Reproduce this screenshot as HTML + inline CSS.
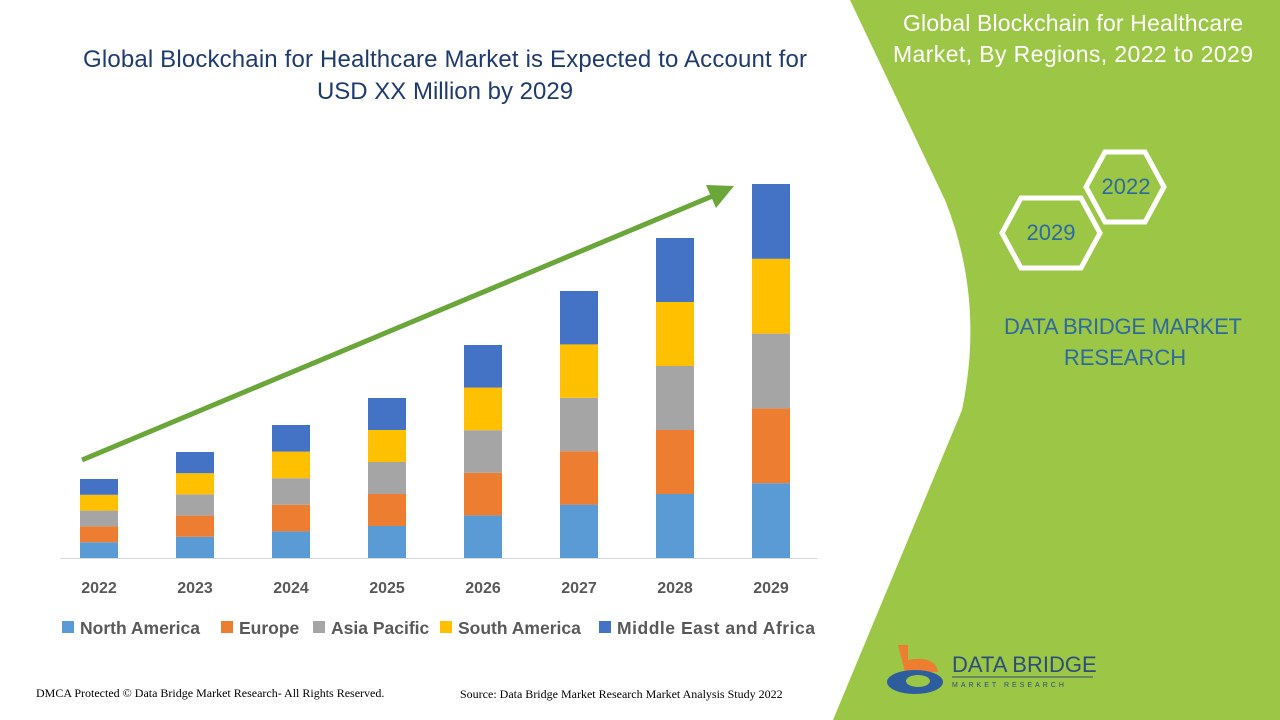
<!DOCTYPE html>
<html><head><meta charset="utf-8"><style>
body{margin:0;width:1280px;height:720px;overflow:hidden;background:#fff;font-family:"Liberation Sans",sans-serif;}
</style></head><body>
<svg width="1280" height="720" viewBox="0 0 1280 720" xmlns="http://www.w3.org/2000/svg" style="position:absolute;left:0;top:0">
<path d="M850,0 L1280,0 L1280,720 L833,720 L962,410 Q985,300 945,200 Z" fill="#9cc645"/>
<text x="445" y="67" text-anchor="middle" font-family="Liberation Sans" font-size="24" fill="#1f3b6e" textLength="724">Global Blockchain for Healthcare Market is Expected to Account for</text>
<text x="445" y="99" text-anchor="middle" font-family="Liberation Sans" font-size="24" fill="#1f3b6e">USD XX Million by 2029</text>
<text x="1073" y="31" text-anchor="middle" font-size="23" fill="#fff" textLength="340">Global Blockchain for Healthcare</text>
<text x="1073" y="62" text-anchor="middle" font-size="23" fill="#fff" textLength="360">Market, By Regions, 2022 to 2029</text>
<polygon points="1105,152 1145,152 1164,187 1145,222 1105,222 1086,187" fill="none" stroke="#fff" stroke-width="5"/>
<polygon points="1021,198 1081,198 1100,233 1081,268 1021,268 1002,233" fill="none" stroke="#fff" stroke-width="5"/>
<text x="1126" y="194" text-anchor="middle" font-size="22" fill="#2e6a9e">2022</text>
<text x="1051" y="240" text-anchor="middle" font-size="22" fill="#2e6a9e">2029</text>
<text x="1123" y="334" text-anchor="middle" font-size="22" fill="#2e6a9e" textLength="238">DATA BRIDGE MARKET</text>
<text x="1125" y="365" text-anchor="middle" font-size="22" fill="#2e6a9e">RESEARCH</text>
<line x1="60" y1="558.5" x2="818" y2="558.5" stroke="#d9d9d9"/>
<g id="bars"></g>
<line x1="82" y1="460" x2="715" y2="195" stroke="#6aa63a" stroke-width="5"/>
<polygon points="734,186 706,185 716,208" fill="#6aa63a"/>
<g font-size="16" font-weight="bold" fill="#595959" text-anchor="middle">
<text x="99" y="593">2022</text><text x="195" y="593">2023</text><text x="291" y="593">2024</text><text x="387" y="593">2025</text><text x="483" y="593">2026</text><text x="579" y="593">2027</text><text x="675" y="593">2028</text><text x="771" y="593">2029</text></g>
<g font-size="17.5" font-weight="bold" fill="#595959">
<rect x="62" y="621" width="12" height="12" fill="#5b9bd5"/><text x="80" y="634">North America</text>
<rect x="221" y="621" width="12" height="12" fill="#ed7d31"/><text x="239" y="634">Europe</text>
<rect x="313" y="621" width="12" height="12" fill="#a5a5a5"/><text x="331" y="634">Asia Pacific</text>
<rect x="440" y="621" width="12" height="12" fill="#ffc000"/><text x="458" y="634">South America</text>
<rect x="599" y="621" width="12" height="12" fill="#4472c4"/><text x="617" y="634" textLength="198">Middle East and Africa</text></g>
<text x="36" y="697" font-family="Liberation Serif" font-size="12" fill="#000">DMCA Protected © Data Bridge Market Research- All Rights Reserved.</text>
<text x="460" y="698" font-family="Liberation Serif" font-size="12" fill="#000">Source: Data Bridge Market Research Market Analysis Study 2022</text>
<path d="M898,645 L908,645 L908,660 Q935,655 938,672 L905,672 Z" fill="#ed7d31"/>
<ellipse cx="915" cy="682" rx="28" ry="12" fill="#2e5d9e"/>
<ellipse cx="918" cy="681" rx="12" ry="6" fill="#9cc645"/>
<text x="952" y="672" font-size="22" fill="#2e4d7a">DATA BRIDGE</text>
<line x1="952" y1="677" x2="1093" y2="677" stroke="#2e4d7a"/>
<text x="952" y="687" font-size="7" fill="#2e4d7a" letter-spacing="3">MARKET  RESEARCH</text>
</svg>
<script>
const tops=[479,452,425,398,345,291,238,184],cols=["#5b9bd5","#ed7d31","#a5a5a5","#ffc000","#4472c4"];
let s="";tops.forEach((t,i)=>{const x=80+i*96,h=(558-t)/5;for(let k=0;k<5;k++){s+=`<rect x="${x}" y="${558-(k+1)*h}" width="38" height="${h}" fill="${cols[k]}"/>`;}});
document.getElementById("bars").innerHTML=s;
</script>
</body></html>
